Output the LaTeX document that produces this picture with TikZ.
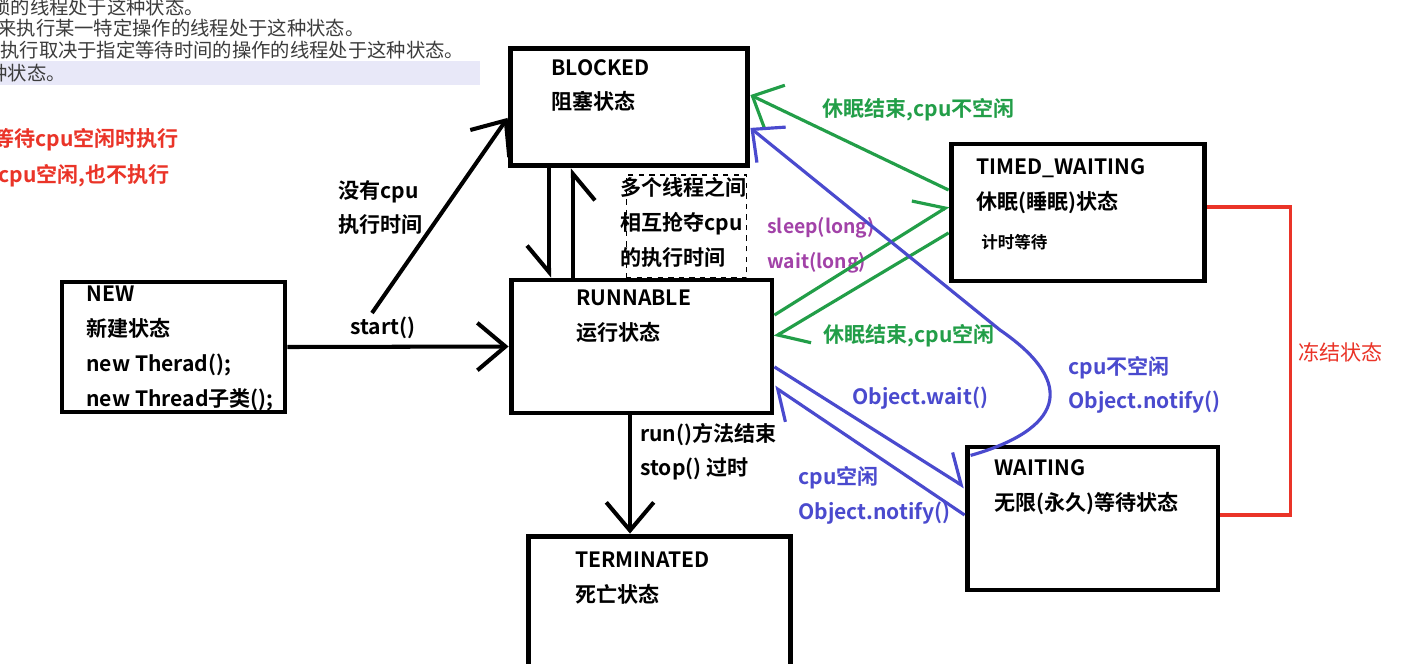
\documentclass[tikz,border=0pt]{standalone}
\usepackage{fontspec}
\setmainfont{Noto Sans CJK SC}[BoldFont={Noto Sans CJK SC Bold}]
\usetikzlibrary{positioning, arrows.meta}
\definecolor{flowgreen}{RGB}{34,158,72}
\definecolor{waitblue}{RGB}{74,74,206}
\definecolor{freezered}{RGB}{234,52,40}
\definecolor{argpurple}{RGB}{162,66,168}
\definecolor{docgray}{RGB}{60,60,60}
\definecolor{selectband}{RGB}{232,232,248}

\begin{document}
\begin{tikzpicture}[
		x=0.02cm, y=-0.02cm,
		statebox/.style={draw, line width=2.8pt, inner sep=0pt},
		statetext/.style={anchor=west, align=left, inner sep=0pt, font=\bfseries\fontsize{12}{19.9}\selectfont},
		note/.style={anchor=west, align=left, inner sep=0pt, font=\bfseries\fontsize{12}{19.6}\selectfont},
		greennote/.style={note, text=flowgreen},
		bluenote/.style={note, text=waitblue},
		argnote/.style={note, text=argpurple, font=\bfseries\fontsize{11}{12}\selectfont},
		rednote/.style={note, text=freezered},
		docline/.style={anchor=west, inner sep=0pt, text=docgray, font=\fontsize{11}{12}\selectfont},
		blackarrow/.style={line width=2.3pt, -{Straight Barb[length=16pt, width=27pt]}},
		greenarrow/.style={line width=1.8pt, draw=flowgreen, -{Straight Barb[length=14pt, width=27pt]}},
		bluearrow/.style={line width=1.8pt, draw=waitblue, -{Straight Barb[length=14pt, width=26pt]}},
	]
	\useasboundingbox (0,0) rectangle (1426,663);
	\clip (0,0) rectangle (1426,663);
	\fill[white] (0,0) rectangle (1426,663);

	% document text behind the diagram
	\fill[selectband] (0,61) rectangle (480,85);
	\node[docline] (doc1) at (-9,7) {锁的线程处于这种状态。};
	\node[docline] (doc2) at (-3,28) {来执行某一特定操作的线程处于这种状态。};
	\node[docline] (doc3) at (0,50) {执行取决于指定等待时间的操作的线程处于这种状态。};
	\node[docline] (doc4) at (-12,73) {种状态。};
	\node[rednote] (blockednote) at (-7,140) {等待cpu空闲时执行};
	\node[rednote] (frozennote) at (-2,176) {cpu空闲,也不执行};

	% states
	\node[statebox, minimum width=135.4pt, minimum height=67.1pt] (blocked) at (629,107) {};
	\node[statebox, minimum width=148.5pt, minimum height=75.7pt] (runnable) at (641.5,346.5) {};
	\node[statebox, minimum width=126.9pt, minimum height=74pt] (newst) at (173.5,347) {};
	\node[statebox, minimum width=144.5pt, minimum height=78pt] (timedwaiting) at (1078,212.5) {};
	\node[statebox, minimum width=142.8pt, minimum height=81.4pt] (waiting) at (1092.5,518.5) {};
	\node[statebox, minimum width=149.6pt, minimum height=93.3pt] (terminated) at (659.5,618) {};

	\node[statetext] (blockedtxt) at (551,85.5) {BLOCKED\\阻塞状态};
	\node[statetext] (runnabletxt) at (576,316.5) {RUNNABLE\\运行状态};
	\node[statetext] (newtxt) at (86,348.5) {NEW\\新建状态\\new Therad();\\new Thread子类();};
	\node[statetext] (timedtxt) at (976,186) {TIMED\_WAITING\\休眠(睡眠)状态};
	\node[note, font=\bfseries\fontsize{9.4}{11}\selectfont] (timedsub) at (981,242) {计时等待};
	\node[statetext] (waitingtxt) at (994,487) {WAITING\\无限(永久)等待状态};
	\node[statetext] (terminatedtxt) at (575,578.5) {TERMINATED\\死亡状态};

	% labels
	\node[note] (nocpu) at (338,207.5) {没有cpu\\执行时间};
	\node[note] (startlbl) at (350,328) {start()};
	\node[statetext] (scramble) at (620,222) {多个线程之间\\相互抢夺cpu\\的执行时间};
	\node[draw, dashed, line width=0.6pt, minimum width=68.8pt, minimum height=58.6pt] (scramblebox) at (686.5,226.5) {};
	\node[argnote] (sleeplbl) at (767,228) {sleep(long)};
	\node[argnote] (waitlbl) at (767,263) {wait(long)};
	\node[greennote] (wakebusy) at (822,110) {休眠结束,cpu不空闲};
	\node[greennote] (wakefree) at (823,336) {休眠结束,cpu空闲};
	\node[bluenote] (waitcall) at (852,398) {Object.wait()};
	\node[bluenote] (notifybusy) at (1068,385) {cpu不空闲\\Object.notify()};
	\node[bluenote] (notifyfree) at (798,495.5) {cpu空闲\\Object.notify()};
	\node[note] (runend) at (640,451.5) {run()方法结束\\stop() 过时};
	\node[rednote, font=\fontsize{12}{13}\selectfont] (freeze) at (1298,352) {冻结状态};

	\coordinate (upstart) at (372,313);
	\coordinate (downx) at (549,0);
	\coordinate (upx) at (573,0);
	\coordinate (termx) at (630,0);
	\coordinate (bluebend) at (1000,330);

	% black transitions
	\draw[blackarrow] (newst.east) -- (runnable.west);
	\draw[blackarrow] (upstart) -- ([yshift=-6.2pt]blocked.west);
	\draw[line width=2.3pt, -{Straight Barb[right, length=15pt, width=25pt]}] (blocked.south -| downx) -- (runnable.north -| downx);
	\draw[line width=2.3pt, -{Straight Barb[right, length=15pt, width=25pt]}] (runnable.north -| upx) -- (blocked.south -| upx);
	\draw[blackarrow] (runnable.south -| termx) -- (terminated.north -| termx);

	% timed waiting
	\draw[greenarrow] ([yshift=12.8pt]timedwaiting.west) -- ([yshift=6.8pt]blocked.east);
	\draw[greenarrow, -{Straight Barb[left, length=14pt, width=27pt]}] ([yshift=17.9pt]runnable.east) -- ([yshift=3.7pt]timedwaiting.west);
	\draw[greenarrow, -{Straight Barb[left, length=14pt, width=27pt]}] ([yshift=-11.6pt]timedwaiting.west) -- ([yshift=5.4pt]runnable.east);

	% waiting
	\draw[bluearrow] ([xshift=3.4pt, yshift=-6.2pt]waiting.north west) .. controls (1060,430) and (1080,385) .. (bluebend) -- ([yshift=-11.9pt]blocked.east);
	\draw[bluearrow, -{Straight Barb[left, length=14pt, width=26pt]}] ([yshift=-11.6pt]runnable.east) -- ([yshift=17.9pt]waiting.west);
	\draw[bluearrow, -{Straight Barb[left, length=14pt, width=26pt]}] ([yshift=2pt]waiting.west) -- ([yshift=-23pt]runnable.east);

	% frozen bracket
	\draw[freezered, line width=2pt] ([yshift=3pt]timedwaiting.east) -- ++(83,0) |- ([yshift=2pt]waiting.east);
\end{tikzpicture}
\end{document}
